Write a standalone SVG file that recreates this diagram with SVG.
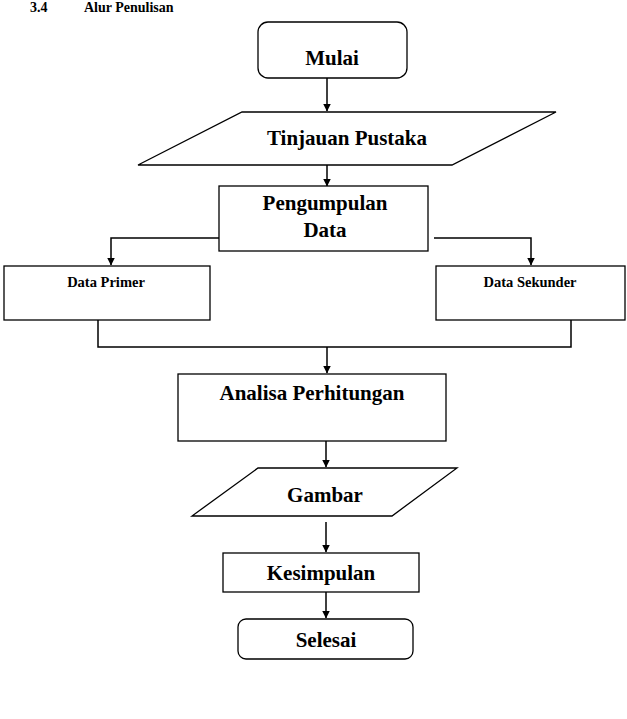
<svg xmlns="http://www.w3.org/2000/svg" width="627" height="719" viewBox="0 0 627 719">
<style>
.b{fill:#fff;stroke:#000;stroke-width:1.3}
.c{fill:none;stroke:#000;stroke-width:1.5}
text{font-family:"Liberation Serif","Times New Roman",serif;font-weight:bold;fill:#000}
.t{font-size:21px;text-anchor:middle}
.s{font-size:14.5px;text-anchor:middle}
.h{font-size:14px}
</style>
<defs>
<marker id="a" markerWidth="8" markerHeight="9" refX="7.5" refY="4" orient="auto" markerUnits="userSpaceOnUse">
<path d="M0,0 L8,4 L0,8 Z" fill="#000"/>
</marker>
</defs>
<text class="h" x="30" y="12">3.4</text>
<text class="h" x="84" y="12">Alur Penulisan</text>
<g id="connectors">
<line class="c" x1="327" y1="78" x2="327" y2="111" marker-end="url(#a)"/>
<line class="c" x1="327" y1="165" x2="327" y2="186" marker-end="url(#a)"/>
<polyline class="c" points="221,238 111,238 111,265" marker-end="url(#a)"/>
<polyline class="c" points="434,238 531,238 531,265" marker-end="url(#a)"/>
<polyline class="c" points="98,320 98,347 571,347 571,320"/>
<line class="c" x1="327" y1="347" x2="327" y2="373" marker-end="url(#a)"/>
<line class="c" x1="326" y1="441" x2="326" y2="467" marker-end="url(#a)"/>
<line class="c" x1="326" y1="522" x2="326" y2="552" marker-end="url(#a)"/>
<line class="c" x1="326" y1="592" x2="326" y2="618" marker-end="url(#a)"/>
</g>
<g id="mulai"><rect class="b" x="258" y="22" width="149" height="56" rx="10"/><text class="t" x="332" y="65">Mulai</text></g>
<g id="tinjauan"><polygon class="b" points="242,112 556,112 452,165 138,165"/><text class="t" x="347" y="145">Tinjauan Pustaka</text></g>
<g id="pengumpulan"><rect class="b" x="219" y="186" width="209" height="65"/><text class="t" x="325" y="210">Pengumpulan</text><text class="t" x="325" y="237">Data</text></g>
<g id="primer"><rect class="b" x="4" y="266" width="206" height="54"/><text class="s" x="106" y="287">Data Primer</text></g>
<g id="sekunder"><rect class="b" x="436" y="266" width="189" height="54"/><text class="s" x="530" y="287">Data Sekunder</text></g>
<g id="analisa"><rect class="b" x="178" y="374" width="268" height="67"/><text class="t" x="312" y="400">Analisa Perhitungan</text></g>
<g id="gambar"><polygon class="b" points="258,468 457,468 392,516 192,516"/><text class="t" x="325" y="502">Gambar</text></g>
<g id="kesimpulan"><rect class="b" x="223" y="553" width="196" height="39"/><text class="t" x="321" y="580">Kesimpulan</text></g>
<g id="selesai"><rect class="b" x="238" y="619" width="175" height="40" rx="8"/><text class="t" x="326" y="647">Selesai</text></g>
</svg>
